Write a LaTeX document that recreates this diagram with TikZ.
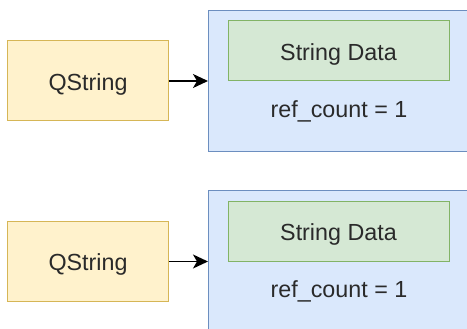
\documentclass[tikz,border=0pt]{standalone}
\usepackage{fontspec}
\setmainfont{Liberation Sans}
\usetikzlibrary{arrows.meta}
\definecolor{yfill}{HTML}{FFF2CC}
\definecolor{ydraw}{HTML}{D6B656}
\definecolor{bfill}{HTML}{DAE8FC}
\definecolor{bdraw}{HTML}{6C8EBF}
\definecolor{gfill}{HTML}{D5E8D4}
\definecolor{gdraw}{HTML}{82B366}
\definecolor{txt}{HTML}{2A2A2A}
\tikzset{
  lbl/.style={font=\fontsize{23.3}{26}\selectfont, text=txt, inner sep=0pt, text height=18.5pt, text depth=0pt},
  qbox/.style={lbl, draw=ydraw, fill=yfill, line width=1pt, minimum width=160.5pt, minimum height=80pt},
  blubox/.style={draw=bdraw, fill=bfill, line width=1pt, minimum width=261.5pt, minimum height=141.5pt, inner sep=0pt},
  grbox/.style={lbl, draw=gdraw, fill=gfill, line width=1pt, minimum width=221pt, minimum height=60pt},
  reftext/.style={font=\fontsize{23.3}{26}\selectfont, text=txt, inner sep=0pt, anchor=base},
  conn/.style={-{Stealth[length=15pt, width=14pt, inset=4pt]}, line width=1.6pt, black}
}
\begin{document}
\begin{tikzpicture}[x=1pt, y=-1pt]
\clip (0,0) rectangle (467,329);
\fill[white] (0,0) rectangle (467,329);
% top row
\node[qbox] (q1) at (88,81) {QString};
\node[blubox] (b1) at (339.25,81.25) {};
\node[grbox] (g1) at (338.5,51) {String Data};
\node[reftext] (r1) at (339,117.5) {ref\_count = 1};
\draw[conn] (q1.east) -- (b1.west |- q1.east);
% bottom row
\node[qbox] (q2) at (88,261.5) {QString};
\node[blubox] (b2) at (339.25,261.75) {};
\node[grbox] (g2) at (338.5,231.5) {String Data};
\node[reftext] (r2) at (339,298) {ref\_count = 1};
\draw[conn] (q2.east) -- (b2.west |- q2.east);
\end{tikzpicture}
\end{document}
